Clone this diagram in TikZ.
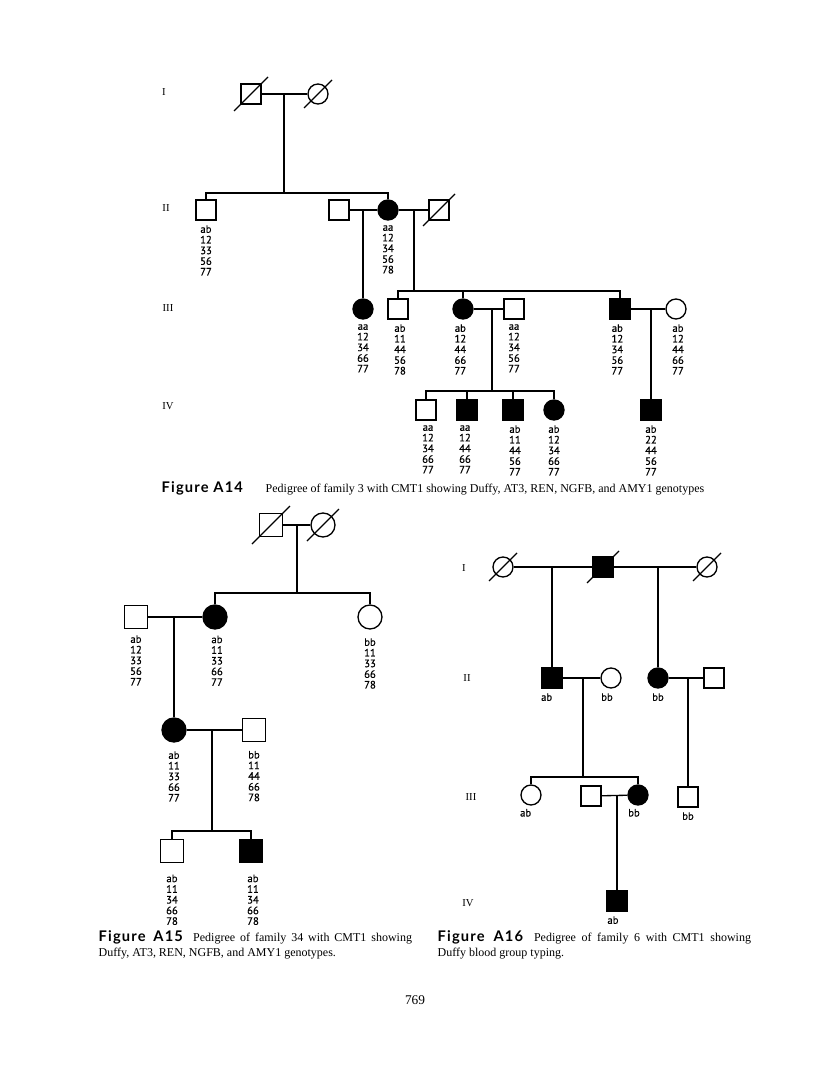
\documentclass[tikz,border=0pt]{standalone}
\usepackage{fontspec}
\setmainfont{Liberation Serif}
\newfontfamily\genofont{PT Sans}[FakeBold=0.6]
\newfontfamily\figfont{Lato}[LetterSpace=8]
\usetikzlibrary{positioning,calc}
\tikzset{
  male/.style={draw,rectangle,minimum size=15pt,inner sep=0pt},
  female/.style={draw,circle,minimum size=15pt,inner sep=0pt},
  bigmale/.style={male,minimum size=17.5pt},
  bigfemale/.style={female,minimum size=18pt},
  aff/.style={fill=black},
  geno/.style={font=\genofont\fontsize{8}{8}\selectfont,align=center,inner sep=0pt},
  gen/.style={font=\fontsize{8}{9}\selectfont,inner sep=0pt},
  capfig/.style={font=\figfont\bfseries\fontsize{11}{12}\selectfont},
  captext/.style={font=\fontsize{9}{11.25}\selectfont,inner sep=0pt},
}
\newcommand{\deadmark}[2]{\draw ([shift={(-#2,#2)}]#1.center) -- ([shift={(#2,-#2)}]#1.center);}

\begin{document}
\begin{tikzpicture}[x=0.75pt,y=-0.75pt,line width=1pt]
\useasboundingbox (0,0) rectangle (816,1081);

\node[gen] (a14g1) at (164,92) {I};
\node[gen] (a14g2) at (166,208) {II};
\node[gen] (a14g3) at (168,308) {III};
\node[gen] (a14g4) at (168,406) {IV};
\node[male] (a11) at (251,94) {};
\node[female] (a12) at (318,94) {};
\node[male] (a21) at (206,210) {};
\node[male] (a22) at (339,210) {};
\node[female,aff] (a23) at (388,210) {};
\node[male] (a24) at (439,210) {};
\node[female,aff] (a31) at (363,309) {};
\node[male] (a32) at (398,309) {};
\node[female,aff] (a33) at (463,309) {};
\node[male] (a34) at (514,309) {};
\node[male,aff] (a35) at (620,309) {};
\node[female] (a36) at (676,309) {};
\node[male] (a41) at (426,410) {};
\node[male,aff] (a42) at (467,410) {};
\node[male,aff] (a43) at (513,410) {};
\node[female,aff] (a44) at (554,410) {};
\node[male,aff] (a45) at (651,410) {};
\deadmark{a11}{17}
\deadmark{a12}{14}
\deadmark{a24}{16}
\coordinate (a1m) at (284,94);
\coordinate (a1s) at (284,193);
\coordinate (a2m) at (363,210);
\coordinate (a3m) at (414,210);
\coordinate (a3s) at (414,291);
\coordinate (a4m) at (492,309);
\coordinate (a4s) at (492,391);
\coordinate (a5m) at (651,309);
\draw (a11) -- (a12);
\draw (a1m) -- (a1s);
\draw (a21.north) |- (a1s) -| (a23.north);
\draw (a22) -- (a23);
\draw (a23) -- (a24);
\draw (a2m) -- (a31.north);
\draw (a3m) -- (a3s);
\draw (a32.north) |- (a3s) -| (a35.north);
\draw (a33.north) -- (a33.north |- a3s);
\draw (a33) -- (a34);
\draw (a35) -- (a36);
\draw (a4m) -- (a4s);
\draw (a41.north) |- (a4s) -| (a44.north);
\draw (a42.north) -- (a42.north |- a4s);
\draw (a43.north) -- (a43.north |- a4s);
\draw (a5m) -- (a45.north);
\node[geno,below=3pt of a21] (a21t) {ab\\12\\33\\56\\77};
\node[geno,below=3pt of a23] (a23t) {aa\\12\\34\\56\\78};
\node[geno,below=3pt of a31] (a31t) {aa\\12\\34\\66\\77};
\node[geno,below=3pt of a32,xshift=1.5pt] (a32t) {ab\\11\\44\\56\\78};
\node[geno,below=3pt of a33,xshift=-2pt] (a33t) {ab\\12\\44\\66\\77};
\node[geno,below=3pt of a34] (a34t) {aa\\12\\34\\56\\77};
\node[geno,below=3pt of a35,xshift=-2pt] (a35t) {ab\\12\\34\\56\\77};
\node[geno,below=3pt of a36,xshift=1.5pt] (a36t) {ab\\12\\44\\66\\77};
\node[geno,below=3pt of a41,xshift=1.5pt] (a41t) {aa\\12\\34\\66\\77};
\node[geno,below=3pt of a42,xshift=-1.5pt] (a42t) {aa\\12\\44\\66\\77};
\node[geno,below=3pt of a43,xshift=1.5pt] (a43t) {ab\\11\\44\\56\\77};
\node[geno,below=3pt of a44] (a44t) {ab\\12\\34\\66\\77};
\node[geno,below=3pt of a45] (a45t) {ab\\22\\44\\56\\77};
\node[capfig,anchor=base west,inner sep=0pt] (a14fig) at (161,492) {Figure A14};
\node[captext,anchor=base west] (a14cap) at (265,492) {Pedigree of family 3 with CMT1 showing Duffy, AT3, REN, NGFB, and AMY1 genotypes};

\node[bigmale] (b11) at (271,525) {};
\node[bigfemale] (b12) at (323,525) {};
\node[bigmale] (b21) at (136,617) {};
\node[bigfemale,aff] (b22) at (215,617) {};
\node[bigfemale] (b23) at (370,617) {};
\node[bigfemale,aff] (b31) at (174,730) {};
\node[bigmale] (b32) at (254,730) {};
\node[bigmale] (b41) at (172,851) {};
\node[bigmale,aff] (b42) at (251,851) {};
\deadmark{b11}{19}
\deadmark{b12}{16}
\coordinate (b1m) at (297,525);
\coordinate (b1s) at (297,593);
\coordinate (b2m) at (174,617);
\coordinate (b3m) at (212,730);
\coordinate (b3s) at (212,831);
\draw (b11) -- (b12);
\draw (b1m) -- (b1s);
\draw (b22.north) |- (b1s) -| (b23.north);
\draw (b21) -- (b22);
\draw (b2m) -- (b31.north);
\draw (b31) -- (b32);
\draw (b3m) -- (b3s);
\draw (b41.north) |- (b3s) -| (b42.north);
\node[geno,below=4pt of b21] (b21t) {ab\\12\\33\\56\\77};
\node[geno,below=4pt of b22,xshift=1.5pt] (b22t) {ab\\11\\33\\66\\77};
\node[geno,below=6pt of b23] (b23t) {bb\\11\\33\\66\\78};
\node[geno,below=6pt of b31] (b31t) {ab\\11\\33\\66\\77};
\node[geno,below=6pt of b32] (b32t) {bb\\11\\44\\66\\78};
\node[geno,below=8pt of b41] (b41t) {ab\\11\\34\\66\\78};
\node[geno,below=8pt of b42,xshift=1.5pt] (b42t) {ab\\11\\34\\66\\78};
\node[captext,anchor=north west,text width=235pt,align=justify] (b15cap) at (98,930) {{\figfont\bfseries\fontsize{11}{12}\selectfont Figure A15}\hspace{4pt} Pedigree of family 34 with CMT1 showing\linebreak Duffy, AT3, REN, NGFB, and AMY1 genotypes.};

\node[gen] (c16g1) at (464,568) {I};
\node[gen] (c16g2) at (467,678) {II};
\node[gen] (c16g3) at (471,797) {III};
\node[gen] (c16g4) at (468,903) {IV};
\node[female] (c11) at (503,567) {};
\node[male,aff] (c12) at (603,567) {};
\node[female] (c13) at (707,567) {};
\node[male,aff] (c21) at (552,678) {};
\node[female] (c22) at (611,678) {};
\node[female,aff] (c23) at (658,678) {};
\node[male] (c24) at (714,678) {};
\node[female] (c31) at (531,795) {};
\node[male] (c32) at (591,796) {};
\node[female,aff] (c33) at (638,795) {};
\node[male] (c34) at (688,797) {};
\node[male,aff] (c41) at (617,901) {};
\deadmark{c11}{14}
\deadmark{c12}{16}
\deadmark{c13}{14}
\coordinate (c1m) at (552,567);
\coordinate (c2m) at (658,567);
\coordinate (c3m) at (583,678);
\coordinate (c3s) at (583,777);
\coordinate (c4m) at (688,678);
\coordinate (c5m) at (617,796);
\draw (c11) -- (c12);
\draw (c12) -- (c13);
\draw (c1m) -- (c21.north);
\draw (c2m) -- (c23.north);
\draw (c21) -- (c22);
\draw (c23) -- (c24);
\draw (c3m) -- (c3s);
\draw (c31.north) |- (c3s) -| (c33.north);
\draw (c4m) -- (c34.north);
\draw (c32) -- (c33);
\draw (c5m) -- (c41.north);
\node[geno,below=3pt of c21,xshift=-4pt] (c21t) {ab};
\node[geno,below=3pt of c22,xshift=-3pt] (c22t) {bb};
\node[geno,below=3pt of c23] (c23t) {bb};
\node[geno,below=2pt of c31,xshift=-4pt] (c31t) {ab};
\node[geno,below=2pt of c33,xshift=-3pt] (c33t) {bb};
\node[geno,below=3pt of c34] (c34t) {bb};
\node[geno,below=3pt of c41,xshift=-3pt] (c41t) {ab};
\node[captext,anchor=north west,text width=235pt,align=justify] (c16cap) at (437,930) {{\figfont\bfseries\fontsize{11}{12}\selectfont Figure A16}\hspace{4pt} Pedigree of family 6 with CMT1 showing\linebreak Duffy blood group typing.};

\node[font=\fontsize{10}{12}\selectfont] (pageno) at (415,1000) {769};
\end{tikzpicture}
\end{document}
